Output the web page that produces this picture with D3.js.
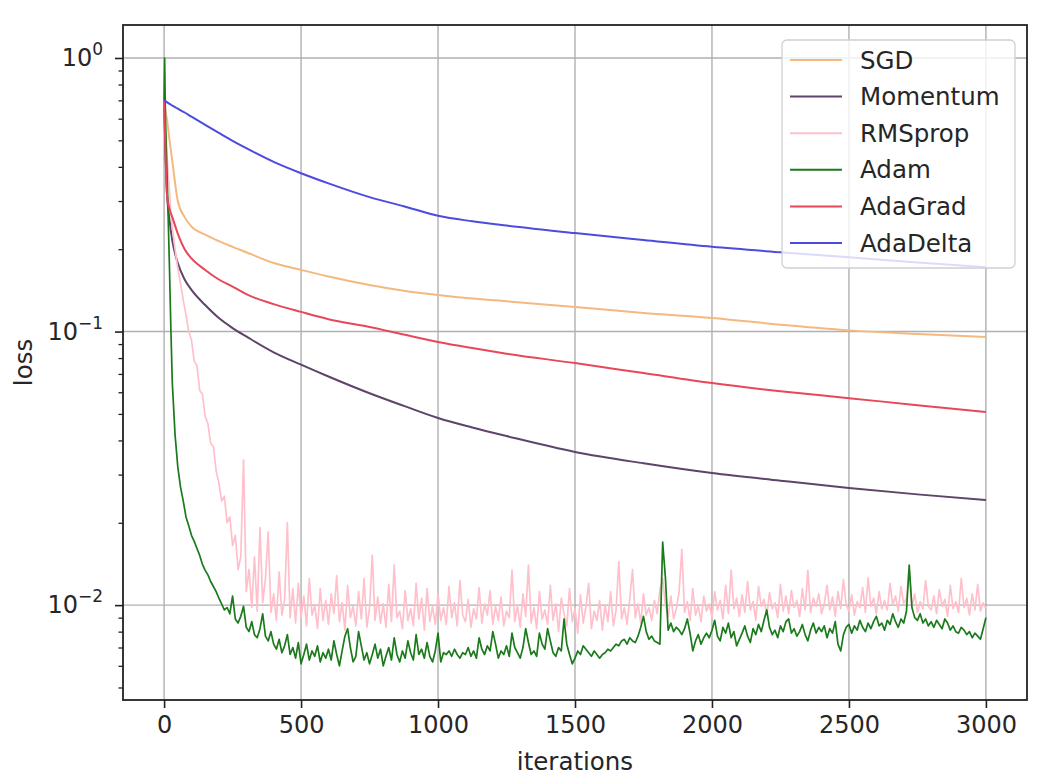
<!DOCTYPE html>
<html>
<head>
<meta charset="utf-8">
<script src="https://cdnjs.cloudflare.com/ajax/libs/d3/7.8.5/d3.min.js"></script>
<title>loss</title>
<style>
    body { margin: 0; background: #fff; }
    svg text { font-family: "DejaVu Sans", sans-serif; fill: #262626; }
</style>
</head>
<body>
<svg id="chart"></svg>
<script>
// ---- data ----
const seriesNames = ["SGD", "Momentum", "RMSprop", "Adam", "AdaGrad", "AdaDelta"]
const seriesColors = ["#f4b97f", "#5e4468", "#ffc0cb", "#1b7a1b", "#e8475a", "#4b4be0"]

// smooth curves
const smoothIters = [0, 5, 10, 20, 30, 50, 75, 100, 150, 200, 250, 300, 400, 500, 600, 750, 875, 1000, 1125, 1250, 1500, 1750, 2000, 2250, 2500, 2750, 3000]
const sgdLoss = [.70, .64, .60, .50, .42, .30, .262, .242, .226, .214, .204, .195, .178, .168, .159, .148, .141, .136, .132, .129, .123, .117, .112, .106, .101, .098, .0955]
const momentumLoss = [.70, .45, .33, .255, .215, .178, .155, .142, .125, .112, .103, .096, .084, .0757, .0685, .0595, .0535, .0483, .0446, .0415, .0363, .0330, .0304, .0285, .0268, .0254, .0242]
const adagradLoss = [.70, .45, .32, .28, .262, .228, .20, .185, .168, .155, .146, .137, .126, .118, .111, .104, .0975, .0916, .0870, .083, .0767, .0705, .0648, .0605, .0571, .0538, .0508]
const adadeltaLoss = [.70, .695, .69, .68, .67, .653, .632, .610, .569, .532, .498, .468, .417, .379, .348, .310, .287, .265, .253, .244, .229, .216, .204, .195, .187, .179, .172]

// noisy curves: first part, then one value every 10 iterations from 100 to 3000
const earlyIters = [0, 2, 5, 10, 15, 20, 25, 30, 40, 50, 60, 70, 80, 90]
const adamEarly = [.70, 1.0, .60, .40, .26, .165, .10, .065, .042, .032, .027, .024, .021, .0195]
const rmspropEarly = [.70, .65, .55, .45, .38, .32, .27, .24, .20, .17, .15, .13, .115, .10]
const lateIters = d3.range(100, 3001, 10)
const adamLate = [
    .0180, .0171, .0161, .0152, .0141, .0134, .0129, .0122, .0117, .0112, // 100
    .0106, .0101, .0096, .0098, .0093, .0108, .0089, .0086, .0091, .0099, // 200
    .0083, .0080, .0087, .0078, .0076, .0082, .0093, .0077, .0074, .0080, // 300
    .0072, .0069, .0075, .0067, .0071, .0078, .0066, .0070, .0064, .0073, // 400
    .0061, .0066, .0072, .0063, .0068, .0065, .0071, .0062, .0067, .0064, // 500
    .0069, .0063, .0074, .0066, .0060, .0068, .0077, .0082, .0070, .0062, // 600
    .0065, .0080, .0071, .0063, .0067, .0061, .0066, .0072, .0064, .0069, // 700
    .0060, .0065, .0070, .0063, .0076, .0066, .0062, .0068, .0064, .0074, // 800
    .0067, .0063, .0078, .0066, .0069, .0064, .0073, .0065, .0062, .0068, // 900
    .0079, .0062, .0067, .0066, .0068, .0065, .0069, .0066, .0064, .0067, // 1000
    .0066, .0070, .0065, .0068, .0064, .0076, .0069, .0066, .0071, .0068, // 1100
    .0080, .0072, .0064, .0068, .0066, .0071, .0065, .0079, .0070, .0067, // 1200
    .0064, .0070, .0082, .0073, .0066, .0068, .0065, .0079, .0072, .0069, // 1300
    .0082, .0074, .0067, .0065, .0070, .0068, .0089, .0072, .0066, .0061, // 1400
    .0064, .0068, .0066, .0071, .0069, .0067, .0065, .0068, .0066, .0064, // 1500
    .0066, .0067, .0069, .0068, .0070, .0072, .0071, .0074, .0075, .0072, // 1600
    .0076, .0074, .0073, .0077, .0083, .0091, .0080, .0075, .0077, .0074, // 1700
    .0073, .0072, .0170, .0126, .0081, .0086, .0080, .0083, .0081, .0078, // 1800
    .0082, .0089, .0079, .0068, .0074, .0078, .0072, .0076, .0079, .0076, // 1900
    .0081, .0088, .0077, .0074, .0083, .0079, .0086, .0076, .0080, .0071, // 2000
    .0075, .0079, .0084, .0077, .0073, .0082, .0078, .0085, .0080, .0088, // 2100
    .0096, .0083, .0078, .0081, .0076, .0084, .0080, .0087, .0089, .0079, // 2200
    .0082, .0077, .0080, .0085, .0078, .0074, .0081, .0086, .0079, .0083, // 2300
    .0080, .0084, .0076, .0082, .0079, .0087, .0072, .0068, .0078, .0083, // 2400
    .0085, .0079, .0084, .0081, .0088, .0083, .0080, .0086, .0082, .0087, // 2500
    .0091, .0084, .0086, .0081, .0088, .0085, .0093, .0087, .0083, .0089, // 2600
    .0086, .0095, .0140, .0098, .0090, .0088, .0093, .0086, .0089, .0084, // 2700
    .0087, .0083, .0088, .0085, .0082, .0089, .0086, .0081, .0084, .0080, // 2800
    .0079, .0083, .0081, .0078, .0080, .0076, .0079, .0077, .0075, .0082, // 2900
    .0090
]
const rmspropLate = [
    .093, .078, .075, .061, .059, .049, .046, .039, .038, .031,           // 100
    .028, .024, .025, .020, .021, .0165, .018, .0135, .0150, .034,        // 200
    .0112, .0135, .0098, .0150, .0095, .0192, .0102, .0125, .0185, .0094, // 300
    .0110, .0088, .0132, .0092, .0105, .0200, .0090, .0115, .0086, .0120, // 400
    .0090, .0108, .0084, .0125, .0092, .0100, .0082, .0115, .0088, .0104, // 500
    .0085, .0110, .0093, .0128, .0087, .0102, .0081, .0118, .0090, .0099, // 600
    .0084, .0112, .0089, .0125, .0083, .0098, .0152, .0088, .0107, .0086, // 700
    .0101, .0083, .0119, .0087, .0140, .0090, .0095, .0082, .0113, .0088, // 800
    .0097, .0084, .0120, .0089, .0106, .0081, .0115, .0087, .0099, .0085, // 900
    .0110, .0088, .0098, .0085, .0117, .0090, .0102, .0084, .0123, .0092, // 1000
    .0087, .0105, .0083, .0097, .0089, .0116, .0086, .0101, .0092, .0113, // 1100
    .0085, .0099, .0088, .0107, .0084, .0095, .0090, .0134, .0087, .0100, // 1200
    .0083, .0110, .0091, .0140, .0086, .0098, .0082, .0112, .0089, .0096, // 1300
    .0085, .0118, .0088, .0101, .0080, .0106, .0093, .0084, .0115, .0087, // 1400
    .0097, .0079, .0109, .0086, .0099, .0120, .0082, .0095, .0088, .0104, // 1500
    .0081, .0100, .0087, .0112, .0084, .0096, .0144, .0089, .0098, .0085, // 1600
    .0106, .0135, .0090, .0101, .0086, .0110, .0092, .0098, .0088, .0104, // 1700
    .0093, .0114, .0125, .0100, .0091, .0108, .0089, .0097, .0112, .0160, // 1800
    .0094, .0103, .0088, .0115, .0092, .0099, .0087, .0108, .0095, .0101, // 1900
    .0090, .0112, .0096, .0104, .0089, .0118, .0093, .0134, .0097, .0106, // 2000
    .0091, .0109, .0094, .0122, .0096, .0103, .0088, .0117, .0099, .0105, // 2100
    .0092, .0111, .0097, .0102, .0090, .0119, .0095, .0108, .0093, .0113, // 2200
    .0098, .0104, .0091, .0115, .0096, .0134, .0094, .0106, .0099, .0110, // 2300
    .0093, .0101, .0118, .0096, .0107, .0091, .0112, .0097, .0124, .0100, // 2400
    .0095, .0109, .0092, .0103, .0098, .0116, .0094, .0126, .0099, .0106, // 2500
    .0093, .0112, .0097, .0104, .0096, .0120, .0100, .0108, .0095, .0117, // 2600
    .0101, .0106, .0136, .0098, .0110, .0094, .0103, .0097, .0123, .0099, // 2700
    .0096, .0108, .0093, .0114, .0099, .0105, .0091, .0118, .0097, .0103, // 2800
    .0094, .0125, .0098, .0106, .0092, .0110, .0096, .0119, .0095, .0102, // 2900
    .0097
]

const xTicks = [0, 500, 1000, 1500, 2000, 2500, 3000]
const yMajor = [1e-2, 1e-1, 1]
const yTickLabels = ["\u22122", "\u22121", "0"]   // exponents of 10

// ---- layout ----
const W = 1041, H = 783
const plot = { left: 123, right: 1027, top: 25, bottom: 700 }

const svg = d3.select("#chart").attr("width", W).attr("height", H)

const x = d3.scaleLinear().domain([-150, 3150]).range([plot.left, plot.right])
const y = d3.scaleLog().domain([0.0045, 1.32]).range([plot.bottom, plot.top])

function pairs(xs, ys) {
    let n = Math.min(xs.length, ys.length)
    return d3.range(n).map(i => [xs[i], ys[i]])
}

const series = [
    { name: "SGD", data: pairs(smoothIters, sgdLoss), smooth: true },
    { name: "Momentum", data: pairs(smoothIters, momentumLoss), smooth: true },
    { name: "RMSprop", data: pairs(earlyIters.concat(lateIters), rmspropEarly.concat(rmspropLate)), smooth: false },
    { name: "Adam", data: pairs(earlyIters.concat(lateIters), adamEarly.concat(adamLate)), smooth: false },
    { name: "AdaGrad", data: pairs(smoothIters, adagradLoss), smooth: true },
    { name: "AdaDelta", data: pairs(smoothIters, adadeltaLoss), smooth: true }
]

// grid
const grid = svg.append("g").attr("stroke", "#b0b0b0").attr("stroke-width", 1.4)
grid.selectAll(".gx").data(xTicks).enter().append("line")
    .attr("x1", d => x(d)).attr("x2", d => x(d))
    .attr("y1", plot.top).attr("y2", plot.bottom)
grid.selectAll(".gy").data(yMajor).enter().append("line")
    .attr("x1", plot.left).attr("x2", plot.right)
    .attr("y1", d => y(d)).attr("y2", d => y(d))

// lines
svg.append("clipPath").attr("id", "clip").append("rect")
    .attr("x", plot.left).attr("y", plot.top)
    .attr("width", plot.right - plot.left).attr("height", plot.bottom - plot.top)

const lines = svg.append("g").attr("clip-path", "url(#clip)")
series.forEach((s, i) => {
    let line = d3.line().x(d => x(d[0])).y(d => y(d[1]))
    if (s.smooth) line.curve(d3.curveMonotoneX)
    lines.append("path")
        .datum(s.data)
        .attr("fill", "none")
        .attr("stroke", seriesColors[i])
        .attr("stroke-width", s.smooth ? 2 : 1.7)
        .attr("stroke-linejoin", "round")
        .attr("d", line)
})

// x axis
const xAxis = svg.append("g")
    .attr("transform", "translate(0," + plot.bottom + ")")
    .call(d3.axisBottom(x).tickValues(xTicks).tickSize(8).tickPadding(8).tickFormat(d3.format("d")))
xAxis.select(".domain").remove()
xAxis.selectAll("line").attr("stroke", "#222").attr("stroke-width", 1.6)
xAxis.selectAll("text").attr("font-size", 24).attr("font-family", "DejaVu Sans").attr("fill", "#262626")

// y axis: major + minor ticks, labels drawn by hand for the superscripts
let yMinor = []
for (let e = -3; e <= 0; e++) {
    for (let k = 2; k <= 9; k++) {
        let v = k * Math.pow(10, e)
        if (v > y.domain()[0] && v < y.domain()[1]) yMinor.push(v)
    }
}
const yAxisMajor = svg.append("g")
    .attr("transform", "translate(" + plot.left + ",0)")
    .call(d3.axisLeft(y).tickValues(yMajor).tickSize(8).tickFormat(() => ""))
const yAxisMinor = svg.append("g")
    .attr("transform", "translate(" + plot.left + ",0)")
    .call(d3.axisLeft(y).tickValues(yMinor).tickSize(4.5).tickFormat(() => ""))
svg.selectAll(".domain").remove()
yAxisMajor.selectAll("line").attr("stroke", "#222").attr("stroke-width", 1.6)
yAxisMinor.selectAll("line").attr("stroke", "#222").attr("stroke-width", 1.3)

const yLabels = svg.append("g")
yMajor.forEach((v, i) => {
    let t = yLabels.append("text")
        .attr("x", plot.left - 20)
        .attr("y", y(v) + 8)
        .attr("text-anchor", "end")
        .attr("font-size", 24)
    t.append("tspan").text("10")
    t.append("tspan").attr("dy", -11).attr("font-size", 17).text(yTickLabels[i])
})

// frame
svg.append("rect")
    .attr("x", plot.left).attr("y", plot.top)
    .attr("width", plot.right - plot.left).attr("height", plot.bottom - plot.top)
    .attr("fill", "none").attr("stroke", "#222").attr("stroke-width", 1.8)

// axis titles
svg.append("text")
    .attr("x", (plot.left + plot.right) / 2).attr("y", 770)
    .attr("text-anchor", "middle").attr("font-size", 24.5)
    .text("iterations")
svg.append("text")
    .attr("transform", "translate(32," + (plot.top + plot.bottom) / 2 + ") rotate(-90)")
    .attr("text-anchor", "middle").attr("font-size", 24.5)
    .text("loss")

// legend
const legend = svg.append("g").attr("transform", "translate(782,40)")
legend.append("rect")
    .attr("width", 233).attr("height", 228).attr("rx", 5)
    .attr("fill", "#fff").attr("fill-opacity", 0.8)
    .attr("stroke", "#d0d0d0").attr("stroke-width", 1.3)
const rowY = d3.scalePoint().domain(seriesNames).range([20, 203])
seriesNames.forEach((name, i) => {
    let g = legend.append("g").attr("transform", "translate(0," + rowY(name) + ")")
    g.append("line").attr("x1", 8).attr("x2", 60)
        .attr("stroke", seriesColors[i]).attr("stroke-width", 2)
    g.append("text").attr("x", 78).attr("y", 8.5)
        .attr("font-size", 24.5).text(name)
})
</script>
</body>
</html>
